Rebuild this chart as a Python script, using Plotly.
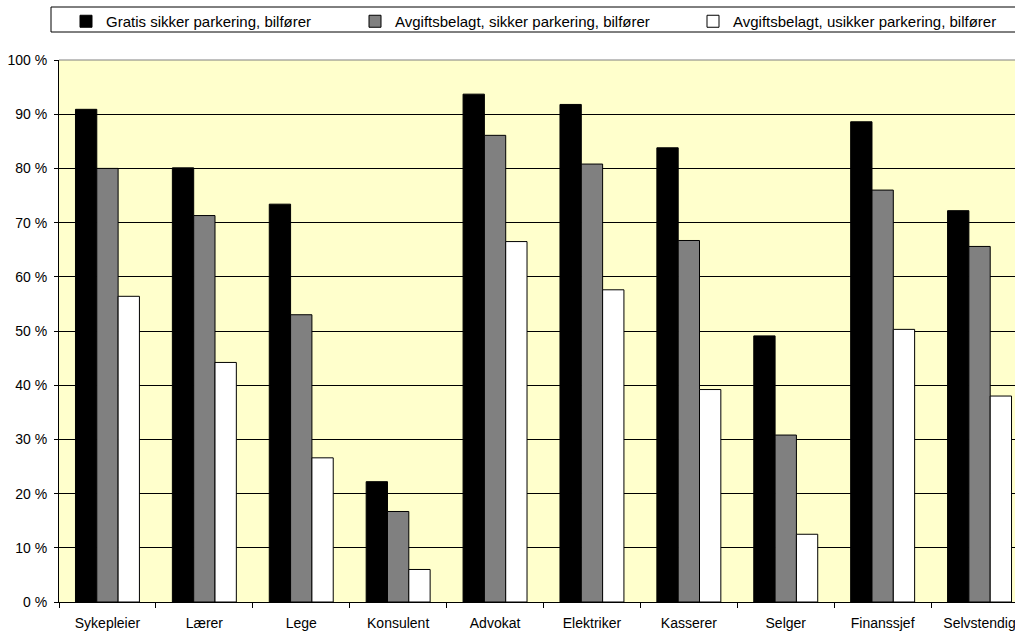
import plotly.graph_objects as go

categories = ["Sykepleier", "Lærer", "Lege", "Konsulent", "Advokat",
              "Elektriker", "Kasserer", "Selger", "Finanssjef", "Selvstendig"]
series_names = ["Gratis sikker parkering, bilfører",
                "Avgiftsbelagt, sikker parkering, bilfører",
                "Avgiftsbelagt, usikker parkering, bilfører"]
gratis_sikker = [90.9, 80.1, 73.4, 22.2, 93.7, 91.8, 83.8, 49.1, 88.6, 72.2]
avgift_sikker = [80.0, 71.3, 53.0, 16.7, 86.1, 80.8, 66.7, 30.8, 76.0, 65.6]
avgift_usikker = [56.4, 44.2, 26.6, 6.0, 66.5, 57.6, 39.2, 12.5, 50.3, 38.0]
y_tick_vals = [0, 10, 20, 30, 40, 50, 60, 70, 80, 90, 100]
y_tick_text = ["0 %", "10 %", "20 %", "30 %", "40 %", "50 %",
               "60 %", "70 %", "80 %", "90 %", "100 %"]

FONT = "Arial, Liberation Sans, sans-serif"
colors = ["#000000", "#808080", "#FFFFFF"]
values = [gratis_sikker, avgift_sikker, avgift_usikker]
legend_ids = ["legend", "legend2", "legend3"]

W, H = 1015, 634
ml, mr, mt, mb = 59, 0, 60, 32
pw = W - ml - mr
ph = H - mt - mb
cat_w = 96.9
x_end = -0.5 + pw / cat_w

fig = go.Figure()
for name, vals, col, lg in zip(series_names, values, colors, legend_ids):
    fig.add_trace(go.Bar(
        x=categories, y=vals, name=name, legend=lg,
        marker=dict(color=col, line=dict(color="#000000", width=1)),
    ))

legend_left_px = [66, 355, 693]
legend_top_px = 5


def legend_cfg(px):
    return dict(
        orientation="h",
        x=(px - ml) / pw, xanchor="left",
        y=(H - mb - legend_top_px) / ph, yanchor="top",
        bgcolor="rgba(0,0,0,0)",
        borderwidth=0,
        font=dict(family=FONT, size=15, color="#000000"),
        itemclick=False, itemdoubleclick=False,
    )


fig.update_layout(
    width=W, height=H,
    margin=dict(l=ml, r=mr, t=mt, b=mb, pad=0),
    paper_bgcolor="#FFFFFF",
    plot_bgcolor="#FFFFCC",
    barmode="group",
    bargap=0.34,
    bargroupgap=0,
    font=dict(family=FONT, size=14, color="#000000"),
    showlegend=True,
    legend=legend_cfg(legend_left_px[0]),
    legend2=legend_cfg(legend_left_px[1]),
    legend3=legend_cfg(legend_left_px[2]),
    xaxis=dict(
        type="category",
        range=[-0.5, x_end],
        tickson="boundaries",
        ticks="outside", ticklen=5, tickcolor="#000000", tickwidth=1,
        ticklabelstandoff=8,
        showline=True, linecolor="#000000", linewidth=1,
        showgrid=False, zeroline=False,
        ticklabeloverflow="allow",
        tickfont=dict(family=FONT, size=14, color="#000000"),
        fixedrange=True,
    ),
    yaxis=dict(
        range=[0, 100],
        tickvals=y_tick_vals, ticktext=y_tick_text,
        ticks="outside", ticklen=4, tickcolor="#000000", tickwidth=1,
        ticklabelstandoff=4,
        showline=True, linecolor="#000000", linewidth=1,
        showgrid=True, gridcolor="#000000", gridwidth=1,
        zeroline=False,
        tickfont=dict(family=FONT, size=14, color="#000000"),
        fixedrange=True,
    ),
    shapes=[
        dict(type="rect", xref="paper", yref="paper",
             x0=(51 - ml) / pw, x1=1.02,
             y0=(H - mb - 32) / ph, y1=(H - mb - 7) / ph,
             line=dict(color="#000000", width=1), fillcolor="rgba(0,0,0,0)",
             layer="above"),
        dict(type="line", xref="paper", yref="paper",
             x0=0, x1=1, y0=1, y1=1,
             line=dict(color="#808080", width=1), layer="above"),
    ],
)

fig.write_html("out.html", config={"displayModeBar": False})
